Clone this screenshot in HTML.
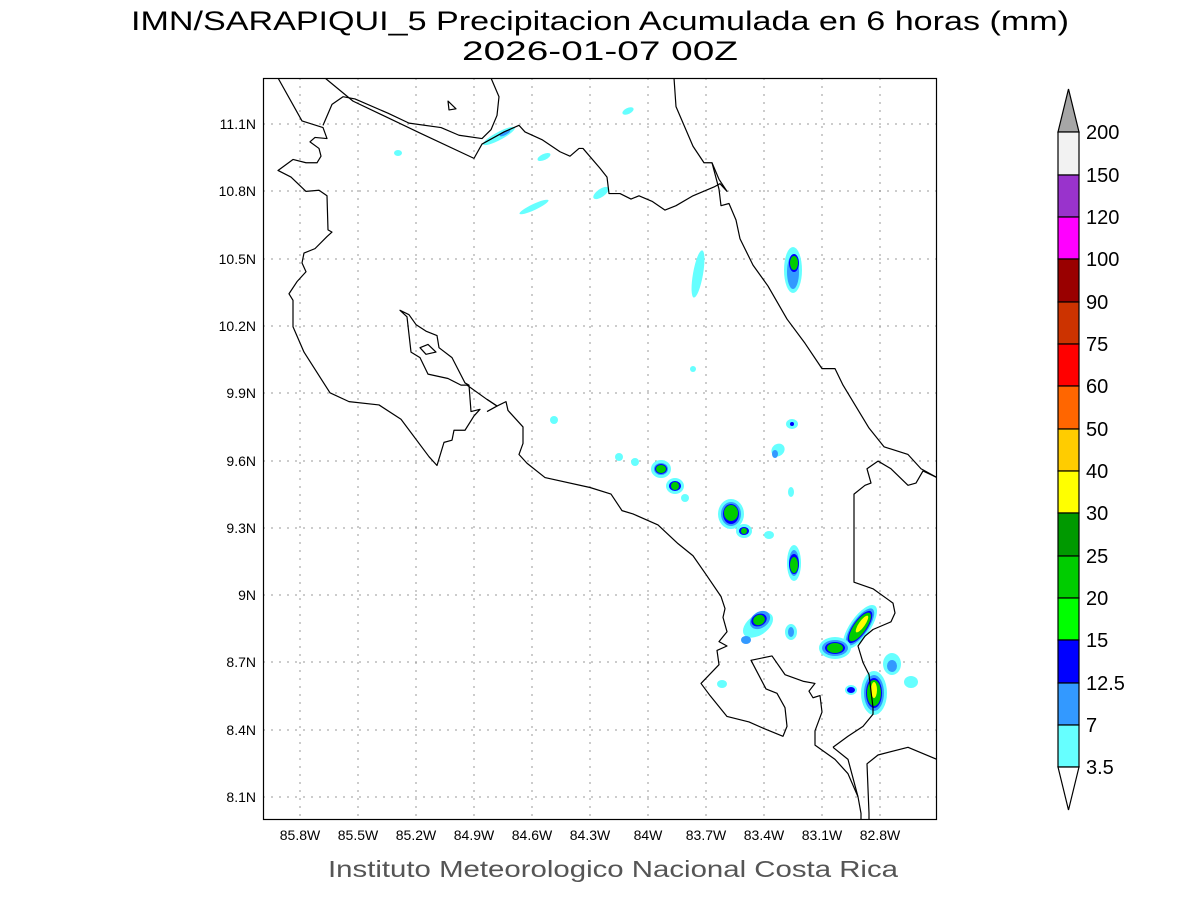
<!DOCTYPE html>
<html><head><meta charset="utf-8"><style>html,body{margin:0;padding:0;background:#fff}svg{display:block}</style></head>
<body>
<svg width="1200" height="900" viewBox="0 0 1200 900" xmlns="http://www.w3.org/2000/svg" font-family="Liberation Sans, sans-serif">
<rect width="1200" height="900" fill="#fff"/>
<text x="600" y="30" font-size="27" text-anchor="middle" textLength="938" lengthAdjust="spacingAndGlyphs" fill="#000">IMN/SARAPIQUI_5 Precipitacion Acumulada en 6 horas (mm)</text>
<text x="600" y="60" font-size="27" text-anchor="middle" textLength="276" lengthAdjust="spacingAndGlyphs" fill="#000">2026-01-07 00Z</text>

<defs><clipPath id="c"><rect x="263" y="78" width="674" height="742"/></clipPath></defs>
<g stroke="#999" stroke-width="1" stroke-dasharray="2,6">
<line x1="300" y1="78" x2="300" y2="820"/><line x1="358" y1="78" x2="358" y2="820"/><line x1="416" y1="78" x2="416" y2="820"/><line x1="474" y1="78" x2="474" y2="820"/><line x1="532" y1="78" x2="532" y2="820"/><line x1="590" y1="78" x2="590" y2="820"/><line x1="648" y1="78" x2="648" y2="820"/><line x1="706" y1="78" x2="706" y2="820"/><line x1="764" y1="78" x2="764" y2="820"/><line x1="822" y1="78" x2="822" y2="820"/><line x1="880" y1="78" x2="880" y2="820"/>
<line x1="263" y1="124" x2="937" y2="124"/><line x1="263" y1="191" x2="937" y2="191"/><line x1="263" y1="259" x2="937" y2="259"/><line x1="263" y1="326" x2="937" y2="326"/><line x1="263" y1="393" x2="937" y2="393"/><line x1="263" y1="461" x2="937" y2="461"/><line x1="263" y1="528" x2="937" y2="528"/><line x1="263" y1="595" x2="937" y2="595"/><line x1="263" y1="662" x2="937" y2="662"/><line x1="263" y1="730" x2="937" y2="730"/><line x1="263" y1="797" x2="937" y2="797"/>
</g>

<g clip-path="url(#c)">
<g>
<ellipse cx="628" cy="111" rx="6" ry="3" transform="rotate(-25 628 111)" fill="#66ffff"/>
<ellipse cx="499" cy="136" rx="18" ry="4" transform="rotate(-28 499 136)" fill="#66ffff"/>
<ellipse cx="505" cy="133" rx="6" ry="2" transform="rotate(-28 505 133)" fill="#3399ff"/>
<ellipse cx="398" cy="153" rx="4" ry="3" fill="#66ffff"/>
<ellipse cx="544" cy="157" rx="7" ry="3" transform="rotate(-25 544 157)" fill="#66ffff"/>
<ellipse cx="601" cy="193" rx="9" ry="4" transform="rotate(-35 601 193)" fill="#66ffff"/>
<ellipse cx="534" cy="207" rx="16" ry="3" transform="rotate(-25 534 207)" fill="#66ffff"/>
<ellipse cx="698" cy="274" rx="5" ry="24" transform="rotate(10 698 274)" fill="#66ffff"/>
<ellipse cx="793" cy="270" rx="9" ry="23" fill="#66ffff"/>
<ellipse cx="793" cy="272" rx="6" ry="17" fill="#3399ff"/>
<ellipse cx="794" cy="263" rx="5" ry="9" fill="#0000ff"/>
<ellipse cx="794" cy="263" rx="4" ry="7" fill="#00cc00"/>
<ellipse cx="693" cy="369" rx="3" ry="3" fill="#66ffff"/>
<ellipse cx="554" cy="420" rx="4" ry="4" fill="#66ffff"/>
<ellipse cx="792" cy="424" rx="6" ry="5" fill="#66ffff"/>
<ellipse cx="792" cy="424" rx="2" ry="2" fill="#0000ff"/>
<ellipse cx="778" cy="450" rx="7" ry="6" transform="rotate(-40 778 450)" fill="#66ffff"/>
<ellipse cx="775" cy="454" rx="3" ry="4" fill="#3399ff"/>
<ellipse cx="619" cy="457" rx="4" ry="4" fill="#66ffff"/>
<ellipse cx="635" cy="462" rx="4" ry="4" fill="#66ffff"/>
<ellipse cx="661" cy="469" rx="10" ry="9" fill="#66ffff"/>
<ellipse cx="661" cy="469" rx="7" ry="6" fill="#3399ff"/>
<ellipse cx="661" cy="469" rx="6" ry="5" fill="#0000ff"/>
<ellipse cx="661" cy="469" rx="5" ry="4" fill="#00cc00"/>
<ellipse cx="675" cy="486" rx="9" ry="8" fill="#66ffff"/>
<ellipse cx="675" cy="486" rx="6" ry="5" fill="#0000ff"/>
<ellipse cx="675" cy="486" rx="4" ry="4" fill="#00cc00"/>
<ellipse cx="685" cy="498" rx="4" ry="4" fill="#66ffff"/>
<ellipse cx="731" cy="514" rx="13" ry="15" fill="#66ffff"/>
<ellipse cx="731" cy="514" rx="10" ry="12" fill="#3399ff"/>
<ellipse cx="731" cy="514" rx="8" ry="10" fill="#0000ff"/>
<ellipse cx="731" cy="513" rx="7" ry="8" fill="#00cc00"/>
<ellipse cx="744" cy="531" rx="8" ry="7" fill="#66ffff"/>
<ellipse cx="744" cy="531" rx="5" ry="4" fill="#0000ff"/>
<ellipse cx="744" cy="531" rx="3" ry="3" fill="#00cc00"/>
<ellipse cx="769" cy="535" rx="5" ry="4" fill="#66ffff"/>
<ellipse cx="791" cy="492" rx="3" ry="5" fill="#66ffff"/>
<ellipse cx="794" cy="563" rx="7" ry="18" fill="#66ffff"/>
<ellipse cx="794" cy="563" rx="5" ry="13" fill="#3399ff"/>
<ellipse cx="794" cy="564" rx="5" ry="10" fill="#0000ff"/>
<ellipse cx="794" cy="565" rx="4" ry="8" fill="#00cc00"/>
<ellipse cx="758" cy="625" rx="17" ry="10" transform="rotate(-35 758 625)" fill="#66ffff"/>
<ellipse cx="760" cy="620" rx="11" ry="8" transform="rotate(-35 760 620)" fill="#3399ff"/>
<ellipse cx="759" cy="620" rx="8" ry="6" transform="rotate(-25 759 620)" fill="#0000ff"/>
<ellipse cx="759" cy="620" rx="6" ry="5" transform="rotate(-25 759 620)" fill="#00cc00"/>
<ellipse cx="746" cy="640" rx="5" ry="4" fill="#3399ff"/>
<ellipse cx="791" cy="632" rx="6" ry="8" fill="#66ffff"/>
<ellipse cx="791" cy="632" rx="3" ry="5" fill="#3399ff"/>
<ellipse cx="860" cy="627" rx="26" ry="10" transform="rotate(-55 860 627)" fill="#66ffff"/>
<ellipse cx="860" cy="627" rx="22" ry="8" transform="rotate(-55 860 627)" fill="#3399ff"/>
<ellipse cx="860" cy="627" rx="19" ry="7" transform="rotate(-55 860 627)" fill="#0000ff"/>
<ellipse cx="860" cy="627" rx="17" ry="6" transform="rotate(-55 860 627)" fill="#00cc00"/>
<ellipse cx="862" cy="624" rx="10" ry="3" transform="rotate(-55 862 624)" fill="#ffff00"/>
<ellipse cx="835" cy="648" rx="16" ry="11" fill="#66ffff"/>
<ellipse cx="835" cy="648" rx="13" ry="8" fill="#3399ff"/>
<ellipse cx="835" cy="648" rx="10" ry="6" fill="#0000ff"/>
<ellipse cx="835" cy="648" rx="8" ry="5" fill="#00cc00"/>
<ellipse cx="874" cy="693" rx="13" ry="22" fill="#66ffff"/>
<ellipse cx="874" cy="693" rx="10" ry="18" fill="#3399ff"/>
<ellipse cx="874" cy="693" rx="8" ry="15" fill="#0000ff"/>
<ellipse cx="874" cy="693" rx="7" ry="13" fill="#00cc00"/>
<ellipse cx="874" cy="690" rx="3" ry="8" fill="#ffff00"/>
<ellipse cx="851" cy="690" rx="6" ry="5" fill="#66ffff"/>
<ellipse cx="851" cy="690" rx="4" ry="3" fill="#0000ff"/>
<ellipse cx="892" cy="664" rx="9" ry="11" fill="#66ffff"/>
<ellipse cx="892" cy="666" rx="5" ry="6" fill="#3399ff"/>
<ellipse cx="911" cy="682" rx="7" ry="6" fill="#66ffff"/>
<ellipse cx="722" cy="684" rx="5" ry="4" fill="#66ffff"/>
</g>

<g fill="none" stroke="#000" stroke-width="1.2" stroke-linejoin="round" transform="translate(0,78) scale(1,1.1008) translate(0,-78)">
<polyline vector-effect="non-scaling-stroke" points="278,78 302,117 323,123 327,133 315,132 310,136 319,142 321,149 317,155 306,155 293,152 278,162 291,168 306,181 319,180 327,185 328,216 332,218 327,222 315,233 304,237 302,246 306,254 297,263 289,274 293,280 293,304 304,327 330,364 349,372 379,375 401,388 429,422 437,430 444,409 452,407 454,398 465,398 474,385 480,379 471,381 469,357 465,355 452,332 439,323 437,312 426,308 416,302 409,293 400,289 407,295 411,327 420,332 428,347 448,351 461,357 467,357 487,370 497,376 487,381 "/>
<polyline vector-effect="non-scaling-stroke" points="487,370 497,376 506,372 508,380 523,395 523,410 519,420 527,428 545,441 590,450 611,456 622,471 633,474 658,484 678,501 693,512 706,529 721,549 725,560 723,568 727,581 719,590 727,594 717,598 719,611 701,628 710,639 727,658 749,663 764,669 783,676 787,667 785,650 777,637 766,633 751,607 772,603 785,620 803,626 815,628 809,635 813,641 820,639 822,654 815,671 815,684 835,697 848,710 858,731 861,746 861,820"/>
<polyline vector-effect="non-scaling-stroke" points="869,820 869,746 867,701 878,693 908,686 937,697"/>
<polyline vector-effect="non-scaling-stroke" points="833,686 848,676 863,667 873,656 873,650 869,620 863,609 858,594 865,585 873,579 891,572 895,564 893,555 873,542 854,536 854,456 865,448 871,446 867,433 878,426 891,433 908,448 916,446 923,435 937,441"/>
<polyline vector-effect="non-scaling-stroke" points="833,686 848,697 858,731"/>
<polyline vector-effect="non-scaling-stroke" points="674,78 676,104 693,140 704,155 712,155 719,179 721,194 729,192 736,207 740,224 753,248 768,267 787,297 805,319 822,342 835,342 843,357 869,396 884,413 908,420 921,433 937,441"/>
<polyline vector-effect="non-scaling-stroke" points="712,155 719,170 727,181 720,174 714,177 693,185 676,194 665,198 652,190 639,185 631,188 620,183 609,183 607,168 600,160 583,142 579,142 570,149 560,145 542,134 525,127 519,121 504,127 482,138 474,151 420,128 353,99 325,78"/>
<polyline vector-effect="non-scaling-stroke" points="491,78 499,95 497,112 491,125 482,133 459,130 441,123 409,119 388,110 355,97 343,95 332,102 323,121"/>
<polygon vector-effect="non-scaling-stroke" points="448,99 456,106 449,107"/>
<polygon vector-effect="non-scaling-stroke" points="420,323 428,320 436,327 426,329"/>
</g>
</g>
<rect x="263.5" y="78.5" width="673" height="741" fill="none" stroke="#000" stroke-width="1.2"/>

<g font-size="14" fill="#000" text-anchor="end">
<text x="256" y="129">11.1N</text><text x="256" y="196">10.8N</text><text x="256" y="264">10.5N</text><text x="256" y="331">10.2N</text><text x="256" y="398">9.9N</text><text x="256" y="466">9.6N</text><text x="256" y="533">9.3N</text><text x="256" y="600">9N</text><text x="256" y="667">8.7N</text><text x="256" y="735">8.4N</text><text x="256" y="802">8.1N</text>
</g>
<g font-size="14" fill="#000" text-anchor="middle">
<text x="300" y="840">85.8W</text><text x="358" y="840">85.5W</text><text x="416" y="840">85.2W</text><text x="474" y="840">84.9W</text><text x="532" y="840">84.6W</text><text x="590" y="840">84.3W</text><text x="648" y="840">84W</text><text x="706" y="840">83.7W</text><text x="764" y="840">83.4W</text><text x="822" y="840">83.1W</text><text x="880" y="840">82.8W</text>
</g>
<text x="613" y="877" font-size="23" text-anchor="middle" textLength="570" lengthAdjust="spacingAndGlyphs" fill="#555">Instituto Meteorologico Nacional Costa Rica</text>

<g stroke="#000" stroke-width="1.2">
<polygon points="1058,132 1079,132 1068.5,89" fill="#a6a6a6"/>
<rect x="1058" y="132" width="21" height="43" fill="#f2f2f2"/>
<rect x="1058" y="175" width="21" height="42" fill="#9933cc"/>
<rect x="1058" y="217" width="21" height="42" fill="#ff00ff"/>
<rect x="1058" y="259" width="21" height="43" fill="#990000"/>
<rect x="1058" y="302" width="21" height="42" fill="#cc3300"/>
<rect x="1058" y="344" width="21" height="42" fill="#ff0000"/>
<rect x="1058" y="386" width="21" height="43" fill="#ff6600"/>
<rect x="1058" y="429" width="21" height="42" fill="#ffcc00"/>
<rect x="1058" y="471" width="21" height="42" fill="#ffff00"/>
<rect x="1058" y="513" width="21" height="43" fill="#009900"/>
<rect x="1058" y="556" width="21" height="42" fill="#00cc00"/>
<rect x="1058" y="598" width="21" height="42" fill="#00ff00"/>
<rect x="1058" y="640" width="21" height="43" fill="#0000ff"/>
<rect x="1058" y="683" width="21" height="42" fill="#3399ff"/>
<rect x="1058" y="725" width="21" height="42" fill="#66ffff"/>
<polygon points="1058,767 1079,767 1068.5,810" fill="#fff"/>
</g>
<g font-size="20" fill="#000">
<text x="1086" y="139">200</text><text x="1086" y="182">150</text><text x="1086" y="224">120</text><text x="1086" y="266">100</text><text x="1086" y="309">90</text><text x="1086" y="351">75</text><text x="1086" y="393">60</text><text x="1086" y="436">50</text><text x="1086" y="478">40</text><text x="1086" y="520">30</text><text x="1086" y="563">25</text><text x="1086" y="605">20</text><text x="1086" y="647">15</text><text x="1086" y="690">12.5</text><text x="1086" y="732">7</text><text x="1086" y="774">3.5</text>
</g>
</svg>
</body></html>
